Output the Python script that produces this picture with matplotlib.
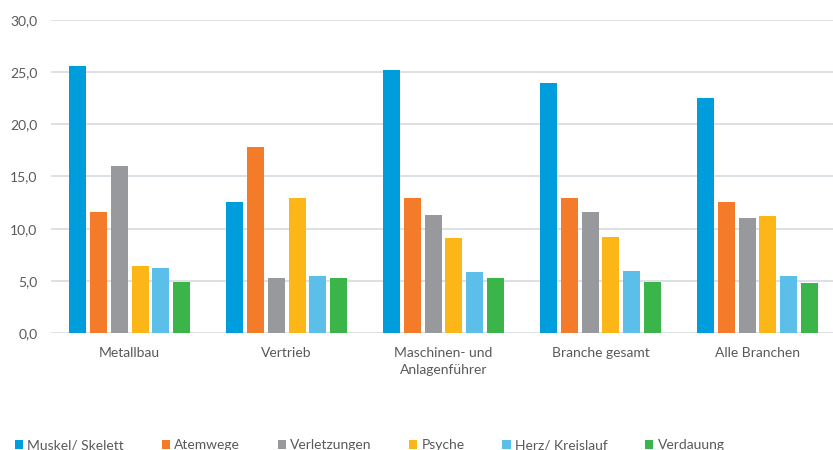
import numpy as np
import matplotlib.pyplot as plt
from matplotlib.ticker import FuncFormatter

categories = ["Metallbau", "Vertrieb", "Maschinen- und\nAnlagenführer", "Branche gesamt", "Alle Branchen"]
series_names = ["Muskel/ Skelett", "Atemwege", "Verletzungen", "Psyche", "Herz/ Kreislauf", "Verdauung"]
muskel = [25.6, 12.6, 25.2, 24.0, 22.5]
atemwege = [11.6, 17.8, 12.9, 12.9, 12.6]
verletzungen = [16.0, 5.3, 11.3, 11.6, 11.0]
psyche = [6.4, 12.9, 9.1, 9.2, 11.2]
herz = [6.2, 5.5, 5.8, 5.9, 5.5]
verdauung = [4.9, 5.3, 5.3, 4.9, 4.8]
colors = ["#009ddc", "#f47b2a", "#97999c", "#fdb618", "#5bbfe9", "#3bb44a"]

plt.rcParams['font.family'] = ['Lato', 'DejaVu Sans']

fig = plt.figure(figsize=(8.33, 4.5), dpi=100)
ax = fig.add_axes([0.0615, 0.26, 0.942, 0.6956])

values = [muskel, atemwege, verletzungen, psyche, herz, verdauung]
x = np.arange(len(categories))
step = 0.1325
width = 0.108
for i, (name, vals) in enumerate(zip(series_names, values)):
    ax.bar(x + (i - 2.5) * step, vals, width, color=colors[i], label=name, zorder=3)

ax.set_ylim(0, 30)
ax.set_xlim(-0.5, len(categories) - 0.5)
ax.set_yticks(np.arange(0, 31, 5))
ax.yaxis.set_major_formatter(FuncFormatter(lambda v, p: ("%.1f" % v).replace(".", ",")))
ax.grid(axis='y', color="#d5dbe2", linewidth=1.2, zorder=0)
for s in ax.spines.values():
    s.set_visible(False)
ax.tick_params(length=0, labelsize=10, colors="#595959")
ax.tick_params(axis='y', pad=10)
ax.tick_params(axis='x', pad=10)
ax.set_xticks(x)
ax.set_xticklabels(categories, linespacing=1.5)

leg = fig.legend(loc='center left', bbox_to_anchor=(0.018, 0.011), ncol=6, frameon=False,
                 fontsize=10, handlelength=0.6, handleheight=0.6, handletextpad=0.3,
                 columnspacing=2.7, borderaxespad=0, borderpad=0)
for t in leg.get_texts():
    t.set_color("#595959")

fig.savefig("out.png", dpi=100)
